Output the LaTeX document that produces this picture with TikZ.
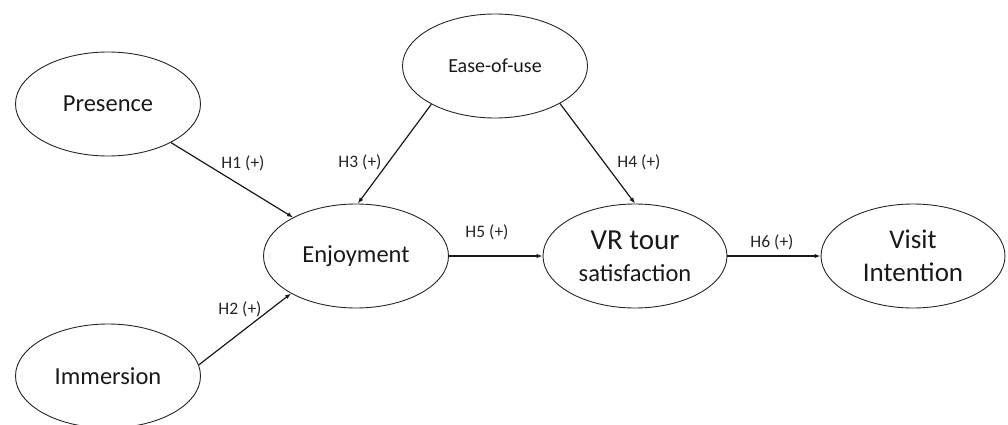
\documentclass[tikz,border=0pt]{standalone}
\usepackage{fontspec}
\setmainfont{Carlito}
\usetikzlibrary{shapes.geometric,arrows.meta}
\begin{document}
\begin{tikzpicture}[x=1pt,y=-1pt,
  construct/.style={draw=black!85,line width=0.9pt,ellipse,inner sep=0pt,
    minimum width=185pt,minimum height=104pt,align=center,text=black!90},
  path/.style={draw=black!90,line width=1.2pt,-{Latex[length=6pt,width=4.5pt]}},
  hyp/.style={font=\fontsize{17.5}{20}\selectfont,text=black!85,inner sep=0pt}]
\useasboundingbox (0,0) rectangle (1008,425);
\node[construct,font=\fontsize{24.5}{28}\selectfont] (pre) at (108,104) {Presence};
\node[construct,font=\fontsize{20}{24}\selectfont] (eas) at (495,66) {Ease-of-use};
\node[construct,font=\fontsize{24.5}{28}\selectfont] (enj) at (356,256) {Enjoyment};
\node[construct,minimum width=184pt,font=\fontsize{24.5}{32}\selectfont] (vr) at (635,256)
  {{\fontsize{29}{32}\selectfont VR tour}\\satisfaction};
\node[construct,minimum width=184pt,font=\fontsize{27}{33}\selectfont] (vis) at (913,256) {Visit\\Intention};
\node[construct,font=\fontsize{24.5}{28}\selectfont] (imm) at (108,376) {Immersion};
\draw[path] (pre) -- (enj);
\draw[path] (imm.7) -- (enj.210);
\draw[path] (eas.211) -- (enj.88);
\draw[path] (eas.330) -- (vr.north);
\draw[path] (enj.east) -- (vr.west);
\draw[path] (vr.east) -- (vis.west);
\node[hyp] (h1) at (243,163) {H1 (+)};
\node[hyp] (h2) at (240,309) {H2 (+)};
\node[hyp] (h3) at (360,162) {H3 (+)};
\node[hyp] (h4) at (639,162) {H4 (+)};
\node[hyp] (h5) at (487,232) {H5 (+)};
\node[hyp] (h6) at (772,242) {H6 (+)};
\end{tikzpicture}
\end{document}
